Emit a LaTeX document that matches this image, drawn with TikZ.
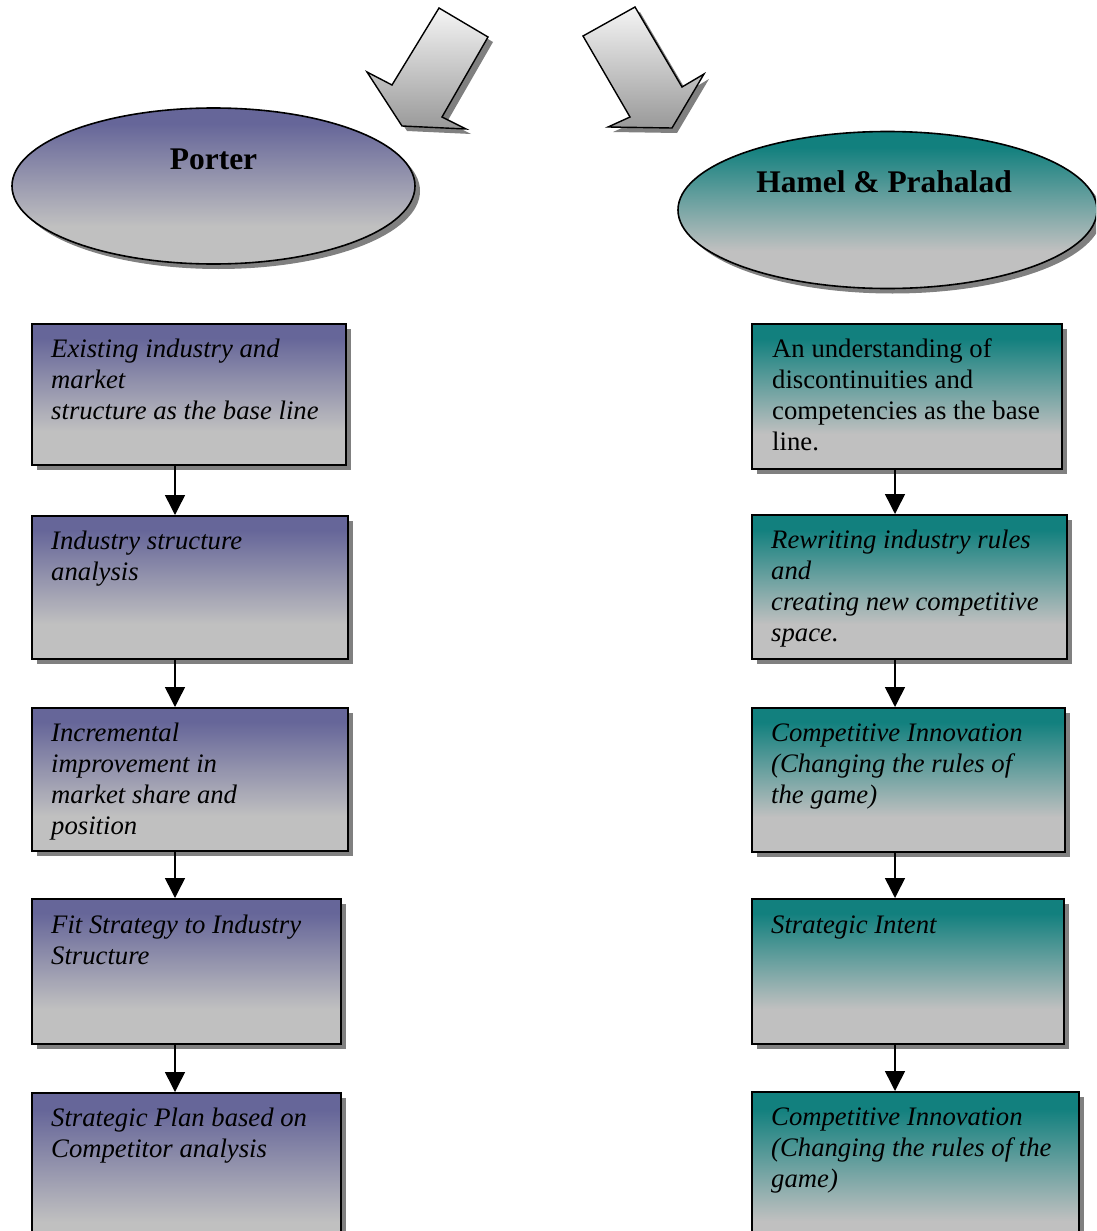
\documentclass[tikz,border=0pt]{standalone}
\usepackage{fontspec}
\setmainfont{Liberation Serif}
\usetikzlibrary{shapes.geometric,shadows,arrows.meta}

\definecolor{porterblue}{RGB}{102,102,153}
\definecolor{hamelteal}{RGB}{18,128,126}
\definecolor{fadegray}{RGB}{192,192,192}

% vertical fades: coloured top, silver bottom
\pgfdeclareverticalshading{porterfade}{100bp}{color(0bp)=(fadegray); color(37bp)=(fadegray); color(70bp)=(porterblue); color(100bp)=(porterblue)}
\pgfdeclareverticalshading{hamelfade}{100bp}{color(0bp)=(fadegray); color(37bp)=(fadegray); color(70bp)=(hamelteal); color(100bp)=(hamelteal)}

\tikzset{
  shadowed/.style={drop shadow={shadow xshift=5pt, shadow yshift=-5pt, fill=black!50, opacity=1}},
  porterfill/.style={shadowed, shading=porterfade, draw=black, line width=1.6pt},
  hamelfill/.style={shadowed, shading=hamelfade, draw=black, line width=1.6pt},
  stagebox/.style={anchor=north west, inner sep=0pt, minimum width=#1},
  headtext/.style={font=\fontsize{31.5}{36}\selectfont\bfseries, anchor=base, inner sep=0pt},
  bodytext/.style={font=\fontsize{26.7}{31}\selectfont, anchor=base west, inner sep=0pt},
  conn/.style={line width=1.5pt, -{Triangle[length=20pt,width=20pt]}},
  bigarrow/.style={shadowed, draw=black, line width=1.4pt, line join=miter, top color=black!4, bottom color=black!40},
}
\newcommand{\stagetext}[1]{\parbox[t]{330pt}{\raggedright #1}}

\begin{document}
\begin{tikzpicture}[x=1pt, y=-1pt]
\useasboundingbox (0,0) rectangle (1096,1231);
\clip (0,0) rectangle (1096,1231);

% the two curved-in block arrows at the top
\path[bigarrow] (439,8) -- (488,37) -- (442,117) -- (466,129) -- (402,126) -- (367,72) -- (392,85) -- cycle;
\path[bigarrow] (583,36) -- (635,7) -- (682,87) -- (704,74) -- (672,128) -- (608,127) -- (630,117) -- cycle;

% heading ellipses
\node[ellipse, porterfill, minimum width=403pt, minimum height=156pt, inner sep=0pt] (porter) at (213.5,186) {};
\node[headtext] (portert) at (213.5,169) {Porter};
\node[ellipse, hamelfill, minimum width=419pt, minimum height=157pt, inner sep=0pt] (hamel) at (887.5,210) {};
\node[headtext] (hamelt) at (884,192) {Hamel \& Prahalad};

% Porter column
\node[stagebox=314pt, minimum height=141pt, porterfill] (L1) at (31,323) {};
\node[stagebox=316pt, minimum height=143pt, porterfill] (L2) at (31,515) {};
\node[stagebox=316pt, minimum height=143pt, porterfill] (L3) at (31,707) {};
\node[stagebox=309pt, minimum height=145pt, porterfill] (L4) at (31,898) {};
\node[stagebox=309pt, minimum height=170pt, porterfill] (L5) at (31,1092) {};

\node[bodytext, font=\fontsize{26.7}{31}\selectfont\itshape] (L1t) at (51,357) {\stagetext{Existing industry and\\market\\structure as the base line}};
\node[bodytext, font=\fontsize{26.7}{31}\selectfont\itshape] (L2t) at (51,549) {\stagetext{Industry structure\\analysis}};
\node[bodytext, font=\fontsize{26.7}{31}\selectfont\itshape] (L3t) at (51,741) {\stagetext{Incremental\\improvement in\\market share and\\position}};
\node[bodytext, font=\fontsize{26.7}{31}\selectfont\itshape] (L4t) at (51,933) {\stagetext{Fit Strategy to Industry\\Structure}};
\node[bodytext, font=\fontsize{26.7}{31}\selectfont\itshape] (L5t) at (51,1126) {\stagetext{Strategic Plan based on\\Competitor analysis}};

% Hamel & Prahalad column
\node[stagebox=310pt, minimum height=145pt, hamelfill] (R1) at (751,323) {};
\node[stagebox=315pt, minimum height=144pt, hamelfill] (R2) at (751,514) {};
\node[stagebox=313pt, minimum height=144pt, hamelfill] (R3) at (751,707) {};
\node[stagebox=312pt, minimum height=145pt, hamelfill] (R4) at (751,898) {};
\node[stagebox=327pt, minimum height=170pt, hamelfill] (R5) at (751,1091) {};

\node[bodytext] (R1t) at (772,357) {\stagetext{An understanding of\\discontinuities and\\competencies as the base\\line.}};
\node[bodytext, font=\fontsize{26.7}{31}\selectfont\itshape] (R2t) at (771,548) {\stagetext{Rewriting industry rules\\and\\creating new competitive\\space.}};
\node[bodytext, font=\fontsize{26.7}{31}\selectfont\itshape] (R3t) at (771,741) {\stagetext{Competitive Innovation\\(Changing the rules of\\the game)}};
\node[bodytext, font=\fontsize{26.7}{31}\selectfont\itshape] (R4t) at (771,933) {\stagetext{Strategic Intent}};
\node[bodytext, font=\fontsize{26.7}{31}\selectfont\itshape] (R5t) at (771,1125) {\stagetext{Competitive Innovation\\(Changing the rules of the\\game)}};

% connector columns
\coordinate (Lx) at (175,0);
\coordinate (Rx) at (895,0);
\draw[conn] (L1.south -| Lx) -- (L2.north -| Lx);
\draw[conn] (L2.south -| Lx) -- (L3.north -| Lx);
\draw[conn] (L3.south -| Lx) -- (L4.north -| Lx);
\draw[conn] (L4.south -| Lx) -- (L5.north -| Lx);
\draw[conn] (R1.south -| Rx) -- (R2.north -| Rx);
\draw[conn] (R2.south -| Rx) -- (R3.north -| Rx);
\draw[conn] (R3.south -| Rx) -- (R4.north -| Rx);
\draw[conn] (R4.south -| Rx) -- (R5.north -| Rx);
\end{tikzpicture}
\end{document}
